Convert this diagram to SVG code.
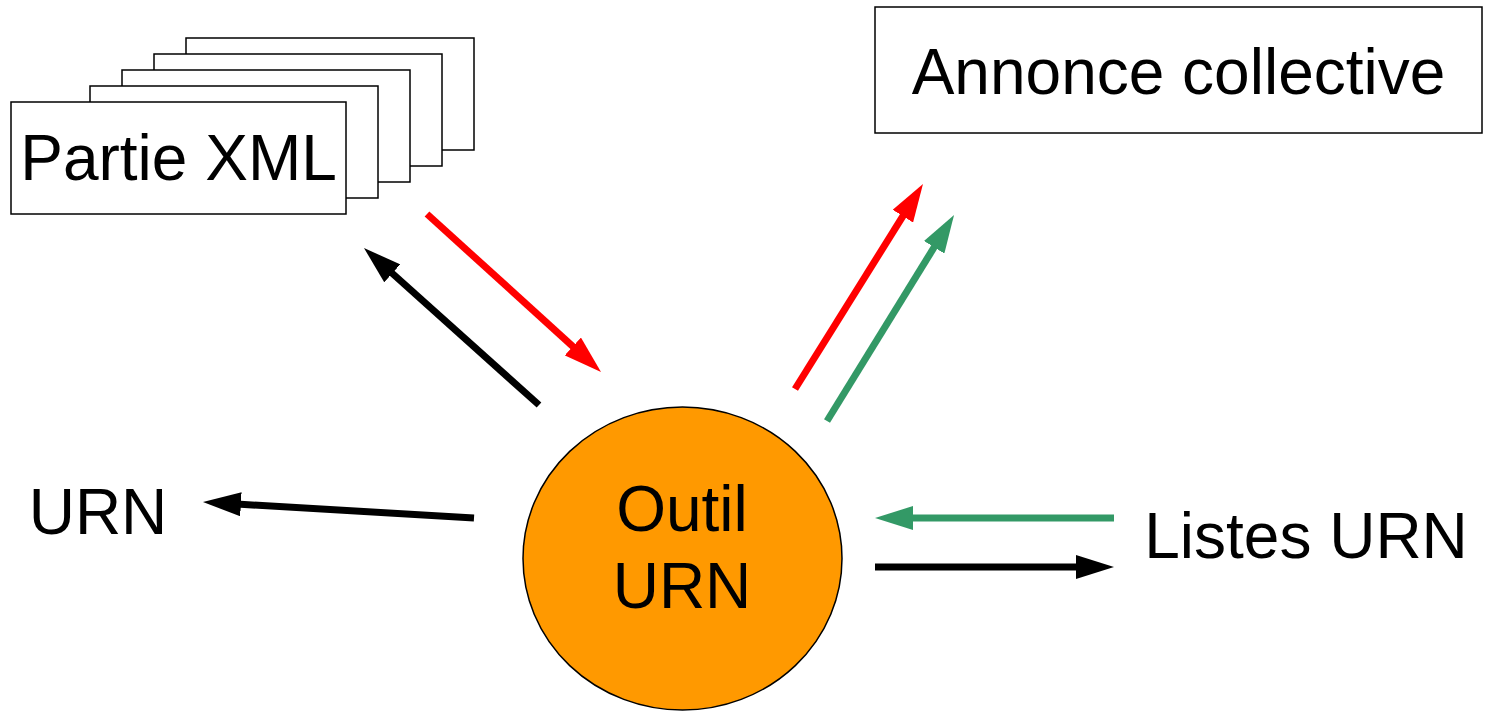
<svg xmlns="http://www.w3.org/2000/svg" width="1488" height="712" viewBox="0 0 1488 712">
  <style>
    .box { fill: #ffffff; stroke: #000000; stroke-width: 1.5; }
    .label { font-family: "Liberation Sans", Arial, sans-serif; font-size: 64px; fill: #000000; }
    .arrow { fill: none; stroke-width: 7; stroke-linecap: butt; }
    .black { stroke: #000000; }
    .red { stroke: #ff0000; }
    .green { stroke: #339966; }
  </style>
  <defs>
    <marker id="head-black" markerUnits="userSpaceOnUse" viewBox="0 0 38 24" markerWidth="38" markerHeight="24" refX="8" refY="12" orient="auto">
      <path d="M0,0 L38,12 L0,24 z" fill="#000000"/>
    </marker>
    <marker id="head-red" markerUnits="userSpaceOnUse" viewBox="0 0 38 24" markerWidth="38" markerHeight="24" refX="8" refY="12" orient="auto">
      <path d="M0,0 L38,12 L0,24 z" fill="#ff0000"/>
    </marker>
    <marker id="head-green" markerUnits="userSpaceOnUse" viewBox="0 0 38 24" markerWidth="38" markerHeight="24" refX="8" refY="12" orient="auto">
      <path d="M0,0 L38,12 L0,24 z" fill="#339966"/>
    </marker>
  </defs>

  <!-- stacked document pages -->
  <g id="partie-xml">
    <rect class="box" x="186" y="38" width="288" height="112"/>
    <rect class="box" x="154" y="54" width="288" height="112"/>
    <rect class="box" x="122" y="70" width="288" height="112"/>
    <rect class="box" x="90" y="86" width="288" height="112"/>
    <rect class="box" x="11" y="102" width="335" height="112"/>
    <text class="label" x="178.5" y="180" text-anchor="middle">Partie XML</text>
  </g>

  <g id="annonce-collective">
    <rect class="box" x="875" y="7" width="607" height="126"/>
    <text class="label" x="1178.5" y="94" text-anchor="middle">Annonce collective</text>
  </g>

  <g id="outil-urn">
    <ellipse cx="682.5" cy="558.5" rx="159.5" ry="151.5" fill="#ff9900" stroke="#000000" stroke-width="1.5"/>
    <text class="label" x="682" y="531" text-anchor="middle">Outil</text>
    <text class="label" x="682" y="608" text-anchor="middle">URN</text>
  </g>

  <g id="urn">
    <text class="label" x="98" y="534" text-anchor="middle">URN</text>
  </g>

  <g id="listes-urn">
    <text class="label" x="1306" y="558" text-anchor="middle">Listes URN</text>
  </g>

  <g id="connectors">
    <line class="arrow red" x1="427" y1="214" x2="578.8" y2="351.8" marker-end="url(#head-red)"/>
    <line class="arrow black" x1="539" y1="405" x2="386.3" y2="268" marker-end="url(#head-black)"/>
    <line class="arrow red" x1="795" y1="389" x2="907.1" y2="209.4" marker-end="url(#head-red)"/>
    <line class="arrow green" x1="827" y1="421" x2="938.3" y2="240.5" marker-end="url(#head-green)"/>
    <line class="arrow green" x1="1114" y1="518" x2="905" y2="518" marker-end="url(#head-green)"/>
    <line class="arrow black" x1="875" y1="567" x2="1084" y2="567" marker-end="url(#head-black)"/>
    <line class="arrow black" x1="474" y1="518" x2="232.9" y2="503.8" marker-end="url(#head-black)"/>
  </g>
</svg>
